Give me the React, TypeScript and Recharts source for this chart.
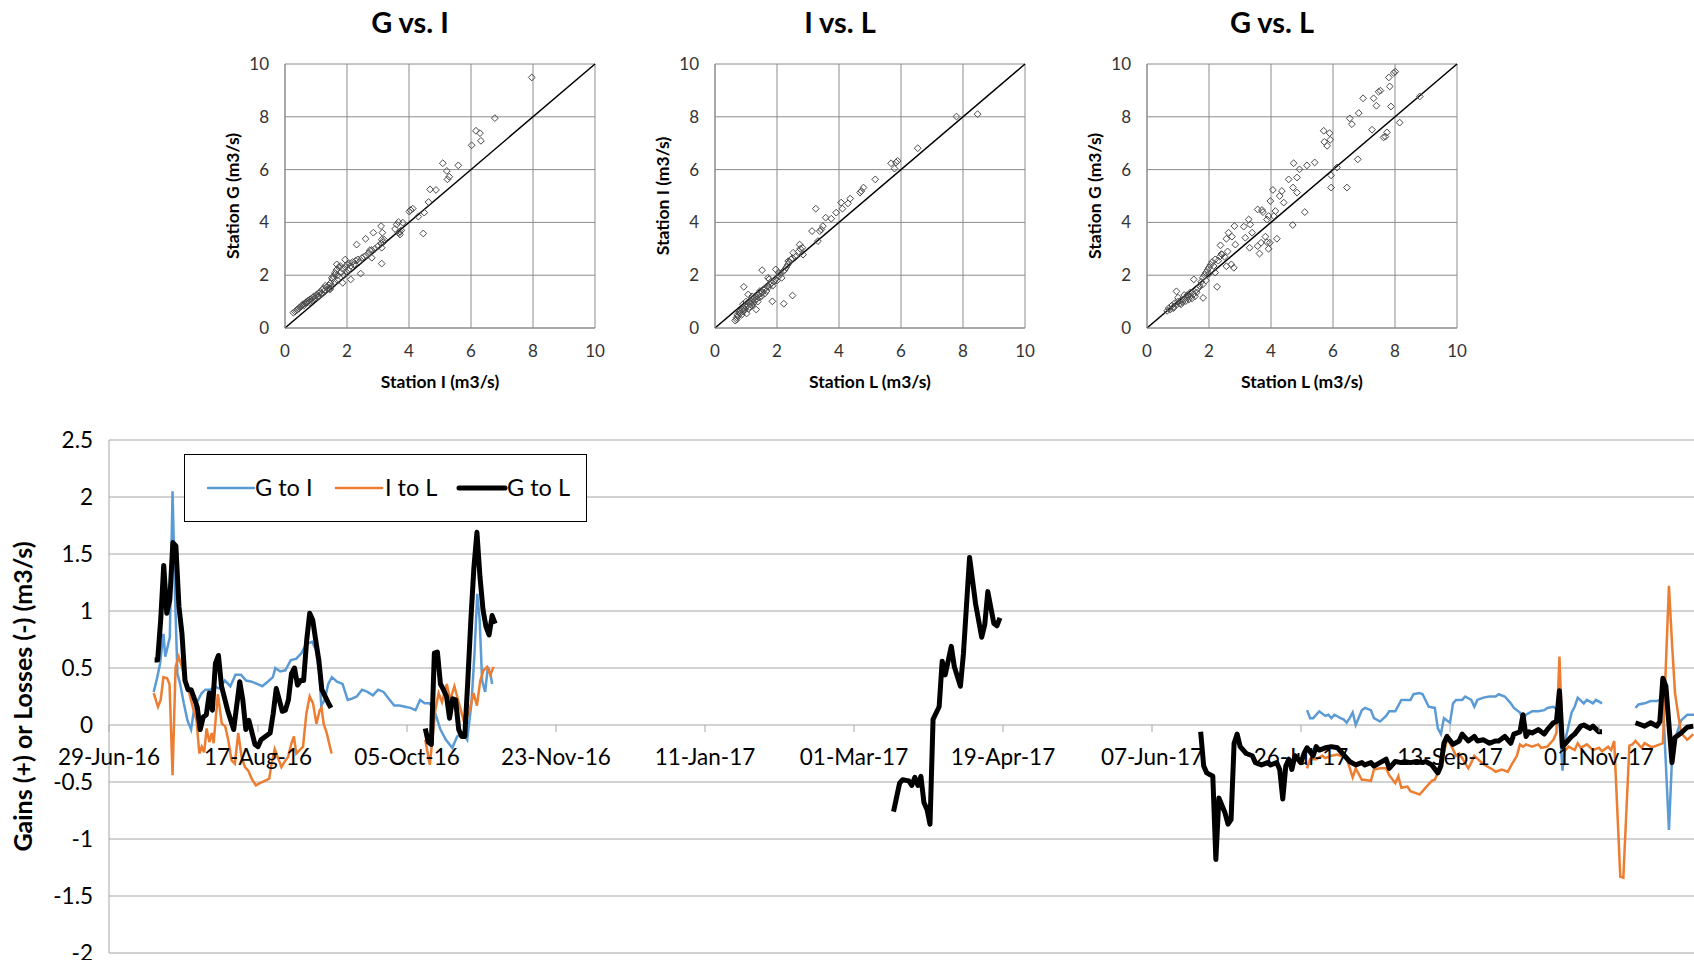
import { CartesianGrid, Line, LineChart, ReferenceLine, Scatter, ScatterChart, XAxis, YAxis } from "recharts"

type Pt = [number, number]

// ---- scatter panels, [x, y] in m3/s ----
const gVsI: Pt[] = [
  [0.27, 0.58], [0.32, 0.62], [0.36, 0.66], [0.4, 0.7], [0.44, 0.73], [0.47, 0.78], [0.5, 0.8], [0.53, 0.84],
  [0.56, 0.86], [0.58, 0.9], [0.6, 0.84], [0.63, 0.92], [0.66, 0.96], [0.7, 0.95], [0.72, 1.0], [0.75, 1.04],
  [0.78, 0.98], [0.8, 1.08], [0.84, 1.1], [0.87, 1.05], [0.9, 1.15], [0.93, 1.2], [0.96, 1.12], [1.0, 1.22],
  [1.03, 1.28], [1.06, 1.18], [1.1, 1.32], [1.14, 1.38], [1.17, 1.3], [1.2, 1.45], [1.24, 1.5], [1.28, 1.42],
  [1.3, 1.6], [1.34, 1.55], [1.38, 1.48], [1.42, 1.62], [1.46, 1.7], [1.5, 1.58], [1.53, 1.85], [1.56, 1.95],
  [1.6, 1.75], [1.63, 2.05], [1.66, 2.2], [1.7, 2.0], [1.74, 2.3], [1.78, 2.35], [1.8, 2.1], [1.85, 2.25],
  [1.9, 2.0], [1.95, 2.3], [2.0, 2.4], [2.04, 2.2], [2.08, 2.45], [2.12, 2.35], [2.18, 2.5], [2.22, 2.4],
  [2.28, 2.55], [2.35, 2.6], [2.4, 2.5], [2.48, 2.65], [2.55, 2.7], [2.62, 2.75], [2.7, 2.85], [2.8, 2.95],
  [2.9, 3.0], [3.0, 3.1], [3.1, 3.2], [3.2, 3.35], [1.2, 1.3], [1.45, 1.5], [1.7, 1.8], [2.0, 2.1], [1.1, 1.2],
  [7.96, 9.49], [6.77, 7.95], [6.16, 7.47], [6.29, 7.38], [6.32, 7.09], [6.02, 6.92], [5.59, 6.16], [5.09, 6.24],
  [5.22, 5.95], [5.24, 5.63], [5.3, 5.73], [4.87, 5.23], [4.68, 5.25], [4.63, 4.77], [4.49, 4.37], [4.3, 4.22],
  [4.46, 3.58], [4.05, 4.47], [4.12, 4.52], [4.01, 4.41], [3.71, 3.65], [3.71, 3.54], [3.6, 3.92], [3.66, 4.01],
  [3.8, 3.99], [3.1, 3.86], [3.14, 3.61], [2.85, 3.61], [3.12, 3.35], [3.17, 3.25], [3.12, 3.04], [3.12, 2.44],
  [2.6, 3.38], [2.31, 3.16], [2.74, 2.95], [2.8, 2.66], [2.44, 2.06], [2.12, 1.84], [1.86, 1.71], [1.67, 2.41],
  [1.94, 2.59], [1.61, 2.09], [1.51, 1.9], [1.45, 1.46], [3.55, 3.75], [3.68, 3.6], [3.75, 3.7],
]

const iVsL: Pt[] = [
  [0.65, 0.28], [0.7, 0.4], [0.72, 0.5], [0.75, 0.45], [0.78, 0.6], [0.8, 0.55], [0.83, 0.65], [0.86, 0.5],
  [0.88, 0.7], [0.9, 0.62], [0.93, 0.75], [0.96, 0.68], [1.0, 0.8], [1.02, 0.55], [1.05, 0.85], [1.08, 0.72],
  [1.1, 0.95], [1.12, 0.8], [1.15, 0.9], [1.18, 1.0], [1.2, 0.85], [1.22, 1.1], [1.25, 0.95], [1.28, 1.05],
  [1.3, 1.2], [1.33, 0.7], [1.35, 1.1], [1.38, 1.0], [1.4, 1.25], [1.43, 1.15], [1.46, 1.3], [1.5, 1.2],
  [1.53, 1.35], [1.56, 1.45], [1.6, 1.3], [1.63, 1.5], [1.66, 1.4], [1.7, 1.6], [1.74, 1.55], [1.78, 1.65],
  [1.82, 1.7], [1.86, 1.6], [1.9, 1.75], [1.95, 1.85], [2.0, 1.8], [2.05, 1.95], [2.1, 2.05], [2.15, 1.9],
  [2.2, 2.15], [2.25, 2.2], [2.3, 2.3], [2.35, 2.4], [2.4, 2.5], [2.45, 2.6], [2.5, 2.65], [2.6, 2.7],
  [2.7, 2.9], [2.75, 3.0], [1.0, 1.0], [1.2, 1.2], [0.9, 0.9], [1.45, 1.4], [1.75, 1.85], [2.05, 2.1],
  [7.79, 8.01], [8.47, 8.1], [6.54, 6.81], [5.89, 6.33], [5.84, 6.27], [5.68, 6.24], [5.79, 6.04], [5.17, 5.63],
  [4.79, 5.32], [4.72, 5.19], [4.68, 5.13], [4.36, 4.9], [4.07, 4.75], [4.11, 4.52], [4.29, 4.72], [3.25, 4.52],
  [3.91, 4.37], [3.57, 4.18], [3.75, 4.14], [3.13, 3.67], [3.43, 3.73], [3.38, 3.67], [3.48, 3.86], [3.32, 3.29],
  [2.73, 3.16], [2.82, 3.04], [2.84, 2.78], [2.52, 2.85], [2.36, 2.53], [1.52, 2.19], [1.96, 2.22], [0.93, 1.56],
  [1.07, 1.27], [1.85, 1.01], [2.22, 0.92], [2.5, 1.23], [1.71, 1.9], [0.7, 0.32],
]

const gVsL: Pt[] = [
  [0.65, 0.65], [0.7, 0.75], [0.75, 0.7], [0.8, 0.85], [0.85, 0.8], [0.9, 0.95], [0.95, 0.88], [1.0, 1.0],
  [1.05, 0.92], [1.1, 1.05], [1.15, 0.98], [1.2, 1.1], [1.25, 1.02], [1.3, 1.15], [1.35, 1.08], [1.4, 1.2],
  [1.45, 1.12], [1.5, 1.28], [1.55, 1.2], [1.6, 1.35], [1.65, 1.5], [1.7, 1.6], [1.75, 1.75], [1.8, 1.9],
  [1.85, 2.0], [1.9, 2.1], [1.95, 2.2], [2.0, 2.3], [2.05, 2.4], [2.1, 2.5], [2.15, 2.35], [2.2, 2.6],
  [2.3, 2.55], [2.35, 2.7], [2.4, 2.8], [2.5, 2.7], [2.6, 2.9], [1.0, 1.15], [1.2, 1.25], [1.4, 1.35],
  [1.8, 1.65], [2.0, 2.05], [1.9, 1.8], [2.2, 2.1], [0.85, 0.75], [1.1, 0.9], [1.3, 1.25], [1.6, 1.45],
  [8.01, 9.71], [7.96, 9.66], [7.8, 9.49], [7.83, 9.15], [7.47, 8.95], [7.53, 8.99], [7.31, 8.7], [6.97, 8.7],
  [7.4, 8.42], [7.87, 8.39], [8.8, 8.77], [8.15, 7.78], [7.26, 7.51], [7.74, 7.41], [7.69, 7.25], [7.63, 7.22],
  [6.54, 7.94], [6.61, 7.72], [6.83, 8.14], [6.8, 6.39], [6.45, 5.32], [5.7, 7.47], [5.72, 7.05], [5.81, 6.9],
  [5.89, 7.38], [5.91, 7.13], [5.94, 5.78], [5.94, 5.32], [6.13, 6.08], [5.41, 6.27], [5.16, 6.16], [4.73, 6.24],
  [4.92, 6.01], [4.84, 5.7], [4.71, 5.32], [4.57, 5.63], [4.84, 5.13], [4.7, 3.9], [5.09, 4.39], [4.06, 5.23],
  [3.98, 4.81], [4.28, 5.0], [4.35, 5.19], [4.41, 4.75], [4.14, 4.43], [4.09, 4.24], [4.19, 3.38], [3.92, 4.24],
  [3.87, 4.11], [3.57, 4.49], [3.71, 4.47], [3.74, 4.39], [3.92, 3.0], [3.87, 3.25], [3.96, 3.23], [3.68, 3.23],
  [3.57, 3.1], [3.63, 2.82], [3.82, 3.46], [3.28, 4.11], [3.33, 3.92], [3.39, 3.61], [3.12, 3.84], [3.17, 3.42],
  [3.31, 3.04], [2.82, 3.86], [2.63, 3.61], [2.74, 3.46], [2.56, 3.38], [2.85, 3.16], [2.8, 2.28], [2.72, 2.41],
  [2.37, 3.13], [2.26, 1.56], [2.56, 2.34], [2.42, 2.78], [1.81, 1.14], [0.95, 1.39], [1.51, 1.84],
]

const oneToOne = [{ x: 0, y: 0 }, { x: 10, y: 10 }]
const flowTicks = [0, 2, 4, 6, 8, 10]

// ---- gains / losses, [days since 29-Jun-16, m3/s] ----
const START = Date.UTC(2016, 5, 29)
const dateTicks = [0, 49, 98, 147, 196, 245, 294, 343, 392, 441, 490]
const gainTicks = [-2, -1.5, -1, -0.5, 0, 0.5, 1, 1.5, 2, 2.5]

const gToI2016: Pt[] = [
  [14.7, 0.29], [15.8, 0.41], [16.8, 0.54], [17.9, 0.8], [18.5, 0.6], [19.3, 0.69], [20.0, 0.77], [20.9, 2.05],
  [21.7, 1.15], [22.5, 0.45], [23.4, 0.36], [24.6, 0.19], [25.8, 0.04], [27.0, -0.04], [28.1, 0.16], [29.3, 0.22],
  [30.5, 0.28], [31.7, 0.31], [33.4, 0.31], [34.6, 0.34], [36.3, 0.32], [38.1, 0.39], [39.9, 0.34], [41.6, 0.44],
  [43.4, 0.44], [45.1, 0.39], [46.9, 0.38], [48.7, 0.36], [50.4, 0.34], [52.2, 0.38], [53.9, 0.42], [54.7, 0.5],
  [56.3, 0.47], [58.0, 0.48], [59.8, 0.57], [61.5, 0.58], [63.3, 0.63], [64.8, 0.71], [66.8, 0.73], [68.0, 0.66],
  [69.2, 0.45], [69.8, 0.17], [70.9, 0.22], [72.1, 0.36], [73.3, 0.42], [75.0, 0.38], [76.8, 0.36], [78.5, 0.22],
  [79.7, 0.23], [81.5, 0.25], [83.2, 0.31], [85.0, 0.29], [86.8, 0.26], [88.5, 0.31], [90.3, 0.29], [92.0, 0.23],
  [93.8, 0.17], [95.5, 0.17], [97.3, 0.16], [99.1, 0.15], [100.8, 0.13], [102.3, 0.22], [103.8, 0.19], [105.5, 0.19],
  [107.3, 0.1], [109.0, -0.04], [110.8, -0.13], [112.9, -0.2], [114.5, -0.1], [116.4, -0.07], [117.8, -0.13],
  [119.2, 0.19], [120.2, 0.63], [121.1, 1.15], [121.9, 0.92], [122.7, 0.39], [123.7, 0.29], [124.6, 0.51],
  [125.4, 0.45], [126.0, 0.36],
]
const gToI2017a: Pt[] = [
  [394, 0.13], [395, 0.06], [396, 0.06], [397, 0.09], [398, 0.12], [400, 0.08], [401, 0.09], [402, 0.06],
  [403, 0.09], [405, 0.06], [406, 0.05], [407, 0.02], [408, 0.06], [409, 0.11], [410, 0.0], [412, 0.13],
  [413, 0.15], [415, 0.13], [416, 0.06], [418, 0.03], [420, 0.08], [421, 0.12], [423, 0.12], [425, 0.22],
  [426, 0.22], [428, 0.22], [429, 0.27], [431, 0.28], [432, 0.27], [434, 0.16], [436, 0.15], [437, -0.03],
  [438, -0.08], [439, 0.06], [441, 0.02], [442, 0.19], [443, 0.22], [445, 0.22], [446, 0.25], [448, 0.22],
  [449, 0.16], [450, 0.22], [452, 0.24], [454, 0.25], [456, 0.25], [457, 0.27], [459, 0.25], [461, 0.19],
  [462, 0.15], [464, 0.11], [465, 0.05], [466, 0.09], [468, 0.12], [470, 0.12], [472, 0.13], [473, 0.15],
  [475, 0.16], [476, 0.14], [477, 0.02], [478, -0.4], [479, -0.12], [481, 0.11], [482, 0.16], [483, 0.24],
  [485, 0.19], [486, 0.22], [488, 0.19], [489, 0.22], [491, 0.19],
]
const gToI2017b: Pt[] = [
  [502, 0.15], [503, 0.18], [505, 0.19], [507, 0.21], [509, 0.21], [510, 0.22], [511, 0.22], [513, -0.92],
  [514, -0.3], [515, -0.12], [517, 0.04], [519, 0.09], [522, 0.09],
]

const iToL2016a: Pt[] = [
  [14.7, 0.28], [16.1, 0.16], [17.0, 0.22], [17.9, 0.42], [19.1, 0.41], [19.9, 0.36], [20.9, -0.44], [21.9, 0.51],
  [22.9, 0.6], [24.0, 0.51], [25.2, 0.36], [26.4, 0.28], [27.5, 0.16], [28.8, 0.04], [29.7, -0.25], [30.5, -0.19],
  [31.3, -0.24], [32.1, -0.03], [33.0, -0.15], [33.8, -0.07], [34.4, -0.16], [35.8, 0.27], [37.1, 0.01],
  [38.2, -0.01], [39.2, -0.13], [40.3, -0.31], [41.4, -0.34], [42.5, -0.07], [43.6, -0.28], [44.7, -0.37],
  [45.8, -0.4], [46.9, -0.47], [48.3, -0.53], [49.6, -0.51], [51.2, -0.49], [52.7, -0.47], [53.4, -0.35],
  [54.5, -0.21], [55.6, -0.29], [56.7, -0.37], [57.8, -0.32], [58.9, -0.28], [60.0, -0.16], [60.8, -0.1],
  [61.6, -0.25], [62.7, -0.22], [63.8, -0.19], [64.9, 0.1], [66.0, 0.25], [67.1, 0.19], [68.2, 0.01],
  [69.3, 0.13], [69.9, 0.15], [70.6, 0.01], [71.5, -0.06], [73.2, -0.25],
]
const iToL2016b: Pt[] = [
  [104.0, -0.13], [105.5, -0.35], [107.3, 0.13], [108.4, 0.28], [109.5, 0.2], [111.1, 0.36], [112.2, 0.22],
  [113.6, 0.34], [115.0, 0.2], [116.6, 0.04], [118.3, 0.1], [119.9, 0.28], [121.0, 0.17], [122.1, 0.39],
  [123.2, 0.48], [124.3, 0.51], [125.4, 0.44], [126.5, 0.51],
]
const iToL2017: Pt[] = [
  [394, -0.38], [395, -0.3], [397, -0.3], [399, -0.27], [400, -0.29], [402, -0.27], [404, -0.26], [405, -0.27],
  [407, -0.29], [409, -0.46], [410, -0.38], [412, -0.48], [413, -0.48], [415, -0.49], [416, -0.39], [418, -0.38],
  [420, -0.38], [421, -0.44], [423, -0.51], [424, -0.45], [425, -0.55], [427, -0.54], [428, -0.58], [430, -0.6],
  [431, -0.61], [433, -0.55], [435, -0.49], [436, -0.48], [438, -0.36], [440, -0.13], [441, -0.16], [443, -0.27],
  [444, -0.25], [445, -0.29], [447, -0.38], [448, -0.33], [449, -0.27], [451, -0.32], [453, -0.36], [455, -0.39],
  [456, -0.41], [458, -0.39], [460, -0.41], [461, -0.36], [463, -0.27], [464, -0.17], [465, -0.19], [466, -0.17],
  [468, -0.19], [470, -0.17], [471, -0.2], [473, -0.19], [475, -0.13], [476, -0.07], [477, 0.6], [478, -0.13],
  [479, -0.22], [480, -0.19], [482, -0.22], [483, -0.16], [484, -0.2], [486, -0.17], [488, -0.22], [490, -0.2],
  [491, -0.23], [493, -0.19], [494, -0.22], [495, -0.14], [497, -1.33], [498, -1.34], [500, -0.18], [501, -0.17],
  [502, -0.14], [504, -0.2], [505, -0.16], [507, -0.19], [508, -0.19], [510, -0.17], [511, -0.16], [513, 1.22],
  [514, 0.72], [515, 0.28], [516, 0.1], [517, -0.07], [519, -0.13], [521, -0.08],
]

const gToL2016a: Pt[] = [
  [15, 0.57], [16, 0.57], [17, 0.92], [18, 1.4], [19, 0.98], [20, 1.1], [21, 1.6], [22, 1.57], [23, 1.04],
  [24, 0.8], [25, 0.39], [26, 0.31], [27, 0.31], [29, 0.16], [30, -0.04], [31, 0.07], [32, 0.09], [33, 0.28],
  [34, 0.13], [35, 0.54], [36, 0.61], [37, 0.34], [39, 0.13], [41, -0.04], [43, 0.38], [44, 0.22], [45, -0.04],
  [46, 0.04], [48, -0.17], [49, -0.19], [50, -0.13], [53, -0.07], [54, 0.1], [55, 0.32], [56, 0.22], [57, 0.12],
  [58, 0.13], [59, 0.22], [60, 0.45], [61, 0.5], [62, 0.35], [63, 0.39], [64, 0.39], [65, 0.74], [66, 0.98],
  [67, 0.92], [68, 0.74], [69, 0.57], [70, 0.31], [72, 0.2], [73, 0.15],
]
const gToL2016b: Pt[] = [
  [104, -0.03], [105, -0.15], [106, -0.17], [107, 0.63], [108, 0.64], [109, 0.36], [110, 0.31], [111, 0.25],
  [112, 0.06], [113, 0.23], [114, 0.22], [115, -0.04], [116, -0.1], [117, -0.1], [118, 0.39], [119, 0.92],
  [120, 1.38], [121, 1.69], [122, 1.3], [123, 1.01], [124, 0.86], [125, 0.79], [126, 0.96], [127, 0.89],
]
const gToL2017spring: Pt[] = [
  [258, -0.76], [260, -0.51], [261, -0.48], [263, -0.49], [264, -0.53], [265, -0.46], [266, -0.53], [267, -0.45],
  [268, -0.68], [269, -0.74], [270, -0.87], [271, 0.05], [273, 0.16], [274, 0.56], [275, 0.44], [277, 0.69],
  [278, 0.51], [280, 0.34], [281, 0.63], [283, 1.47], [285, 1.06], [287, 0.77], [288, 0.88], [289, 1.17],
  [291, 0.89], [292, 0.87], [293, 0.94],
]
const gToL2017a: Pt[] = [
  [359, -0.06], [360, -0.36], [361, -0.42], [363, -0.45], [364, -1.18], [365, -0.64], [367, -0.77], [368, -0.87],
  [369, -0.83], [370, -0.16], [371, -0.08], [372, -0.19], [374, -0.25], [376, -0.27], [377, -0.33], [379, -0.35],
  [381, -0.33], [382, -0.35], [384, -0.33], [385, -0.39], [386, -0.65], [387, -0.36], [388, -0.3], [389, -0.39],
  [390, -0.27], [392, -0.33], [393, -0.25], [394, -0.2], [396, -0.27], [397, -0.19], [398, -0.22], [400, -0.2],
  [402, -0.19], [404, -0.2], [405, -0.23], [406, -0.26], [408, -0.32], [410, -0.35], [412, -0.33], [413, -0.35],
  [415, -0.33], [416, -0.36], [418, -0.33], [420, -0.3], [421, -0.38], [423, -0.32], [425, -0.33], [426, -0.32],
  [428, -0.33], [430, -0.32], [432, -0.33], [433, -0.32], [435, -0.35], [437, -0.42], [438, -0.36], [439, -0.16],
  [440, -0.1], [442, -0.17], [444, -0.14], [445, -0.08], [447, -0.14], [449, -0.1], [450, -0.14], [452, -0.13],
  [454, -0.16], [456, -0.14], [457, -0.14], [459, -0.1], [461, -0.16], [462, -0.08], [464, -0.06], [465, 0.09],
  [466, -0.1], [467, -0.06], [468, -0.07], [470, -0.04], [472, -0.08], [473, -0.04], [475, 0.02], [476, 0.03],
  [477, 0.3], [478, -0.19], [479, -0.16], [481, -0.1], [482, -0.08], [484, -0.01], [485, 0.0], [487, -0.03],
  [488, -0.01], [490, -0.06], [491, -0.06],
]
const gToL2017b: Pt[] = [
  [502, 0.02], [504, 0.0], [505, -0.01], [507, 0.02], [509, -0.01], [510, 0.03], [511, 0.41], [512, 0.34],
  [514, -0.33], [515, -0.11], [517, -0.07], [519, -0.02], [521, -0.01],
]

const BLUE = "#5B9BD5"
const ORANGE = "#ED7D31"
const GRID = "#a6a6a6"
const SC_GRID = "#8c8c8c"

const MONTHS = ["Jan", "Feb", "Mar", "Apr", "May", "Jun", "Jul", "Aug", "Sep", "Oct", "Nov", "Dec"]
const fmtDate = (d: number) => {
  const t = new Date(START + d * 86400000)
  const dd = String(t.getUTCDate()).padStart(2, "0")
  return `${dd}-${MONTHS[t.getUTCMonth()]}-${String(t.getUTCFullYear()).slice(2)}`
}

// joins segments, putting a null between them so the line breaks
const toSeries = (...segs: Pt[][]) =>
  segs.flatMap((seg, i) => {
    const rows: { d: number; v: number | null }[] = seg.map(([d, v]) => ({ d, v }))
    if (i > 0) {
      const prev = segs[i - 1]
      rows.unshift({ d: (prev[prev.length - 1][0] + seg[0][0]) / 2, v: null })
    }
    return rows
  })

const toPoints = (pts: Pt[]) => pts.map(([x, y]) => ({ x, y }))

const MAIN_W = 1760
const MAIN_H = 570
const MAIN_TOP = 50
const MAIN_XH = 7
const Y_MIN = -2
const Y_MAX = 2.5
// the date axis sits on the zero line
const ZERO_Y = MAIN_TOP + ((MAIN_H - MAIN_TOP - MAIN_XH) * Y_MAX) / (Y_MAX - Y_MIN)

const DateTick = (props: any) => {
  const { x, payload } = props
  return (
    <g>
      <line x1={x} x2={x} y1={ZERO_Y} y2={ZERO_Y + 7} stroke={GRID} />
      <text x={x} y={ZERO_Y + 40} textAnchor="middle" fontSize={22.5} fill="#000">
        {fmtDate(payload.value)}
      </text>
    </g>
  )
}

const Diamond = (props: any) => {
  const { cx, cy } = props
  const r = 3.4
  return (
    <path
      d={`M${cx},${cy - r}L${cx + r},${cy}L${cx},${cy + r}L${cx - r},${cy}Z`}
      fill="none"
      stroke="#4a4a4a"
      strokeWidth={1}
    />
  )
}

function ScatterPanel({ left, title, xLabel, yLabel, points }: { left: number; title: string; xLabel: string; yLabel: string; points: Pt[] }) {
  return (
    <div style={{ position: "absolute", left, top: 0, width: 420, height: 400 }}>
      <svg width={420} height={44} style={{ position: "absolute", left: 0, top: 0 }}>
        <text x={210} y={33} textAnchor="middle" fontSize={29} fontWeight={700} fill="#000">
          {title}
        </text>
      </svg>
      <ScatterChart width={420} height={400} margin={{ top: 64, right: 25, bottom: 0, left: 0 }}>
        <CartesianGrid stroke={SC_GRID} />
        <XAxis
          type="number"
          dataKey="x"
          domain={[0, 10]}
          ticks={flowTicks}
          interval={0}
          height={72}
          tickSize={0}
          tickMargin={17}
          axisLine={{ stroke: SC_GRID }}
          tick={{ fontSize: 17, fill: "#333" }}
          label={(p: any) => (
            <text x={p.viewBox.x + p.viewBox.width / 2} y={p.viewBox.y + 60} textAnchor="middle" fontSize={17.5} fontWeight={700} fill="#000">
              {xLabel}
            </text>
          )}
        />
        <YAxis
          type="number"
          dataKey="y"
          domain={[0, 10]}
          ticks={flowTicks}
          interval={0}
          width={85}
          tickSize={0}
          tickMargin={16}
          axisLine={{ stroke: SC_GRID }}
          tick={{ fontSize: 17, fill: "#333" }}
          label={(p: any) => {
            const cx = p.viewBox.x + p.viewBox.width - 53
            const cy = p.viewBox.y + p.viewBox.height / 2
            return (
              <text x={cx} y={cy} transform={`rotate(-90 ${cx} ${cy})`} textAnchor="middle" dominantBaseline="central" fontSize={17.5} fontWeight={700} fill="#000">
                {yLabel}
              </text>
            )
          }}
        />
        <Scatter data={toPoints(points)} shape={<Diamond />} isAnimationActive={false} />
        <ReferenceLine segment={oneToOne} stroke="#000" strokeWidth={1.5} />
      </ScatterChart>
    </div>
  )
}

function LegendBox() {
  const items = [
    { label: "G to I", color: BLUE, w: 2.5, x: 24, tx: 71 },
    { label: "I to L", color: ORANGE, w: 2.5, x: 152, tx: 201 },
    { label: "G to L", color: "#000", w: 5, x: 275, tx: 323 },
  ]
  return (
    <svg width={403} height={68} style={{ position: "absolute", left: 184, top: 454 }}>
      <rect x={0.5} y={0.5} width={402} height={67} fill="#fff" stroke="#000" />
      {items.map((it) => (
        <g key={it.label}>
          <line x1={it.x} x2={it.x + 46} y1={34} y2={34} stroke={it.color} strokeWidth={it.w} strokeLinecap="round" />
          <text x={it.tx} y={42} fontSize={23.5} fill="#000">
            {it.label}
          </text>
        </g>
      ))}
    </svg>
  )
}

export default function App() {
  const blue = toSeries(gToI2016, gToI2017a, gToI2017b)
  const orange = toSeries(iToL2016a, iToL2016b, iToL2017)
  const black = toSeries(gToL2016a, gToL2016b, gToL2017spring, gToL2017a, gToL2017b)

  return (
    <div
      style={{
        position: "absolute",
        left: 0,
        top: 0,
        width: 1694,
        height: 965,
        overflow: "hidden",
        background: "#fff",
        fontFamily: "Lato, sans-serif",
      }}
    >
      <ScatterPanel left={200} title="G vs. I" xLabel="Station I (m3/s)" yLabel="Station G (m3/s)" points={gVsI} />
      <ScatterPanel left={630} title="I vs. L" xLabel="Station L (m3/s)" yLabel="Station I (m3/s)" points={iVsL} />
      <ScatterPanel left={1062} title="G vs. L" xLabel="Station L (m3/s)" yLabel="Station G (m3/s)" points={gVsL} />

      <div style={{ position: "absolute", left: 0, top: 390, width: MAIN_W, height: MAIN_H }}>
        <LineChart width={MAIN_W} height={MAIN_H} margin={{ top: MAIN_TOP, right: 12, bottom: 0, left: 0 }}>
          <CartesianGrid vertical={false} stroke={GRID} />
          <XAxis
            type="number"
            dataKey="d"
            domain={[0, 539]}
            ticks={dateTicks}
            interval={0}
            allowDataOverflow
            height={MAIN_XH}
            axisLine={false}
            tickLine={false}
            tick={(p: any) => <DateTick {...p} />}
          />
          <YAxis
            type="number"
            domain={[Y_MIN, Y_MAX]}
            ticks={gainTicks}
            interval={0}
            width={109}
            tickSize={0}
            tickMargin={16}
            axisLine={{ stroke: GRID }}
            tick={{ fontSize: 22.5, fill: "#000" }}
            label={(p: any) => {
              const cx = 22
              const cy = p.viewBox.y + p.viewBox.height / 2
              return (
                <text x={cx} y={cy} transform={`rotate(-90 ${cx} ${cy})`} textAnchor="middle" dominantBaseline="central" fontSize={25} fontWeight={700} fill="#000">
                  Gains (+) or Losses (-) (m3/s)
                </text>
              )
            }}
          />
          <Line data={blue} dataKey="v" type="linear" stroke={BLUE} strokeWidth={2.5} dot={false} activeDot={false} connectNulls={false} isAnimationActive={false} />
          <Line data={orange} dataKey="v" type="linear" stroke={ORANGE} strokeWidth={2.5} dot={false} activeDot={false} connectNulls={false} isAnimationActive={false} />
          <Line data={black} dataKey="v" type="linear" stroke="#000" strokeWidth={5} strokeLinejoin="round" dot={false} activeDot={false} connectNulls={false} isAnimationActive={false} />
        </LineChart>
      </div>
      <LegendBox />
    </div>
  )
}
